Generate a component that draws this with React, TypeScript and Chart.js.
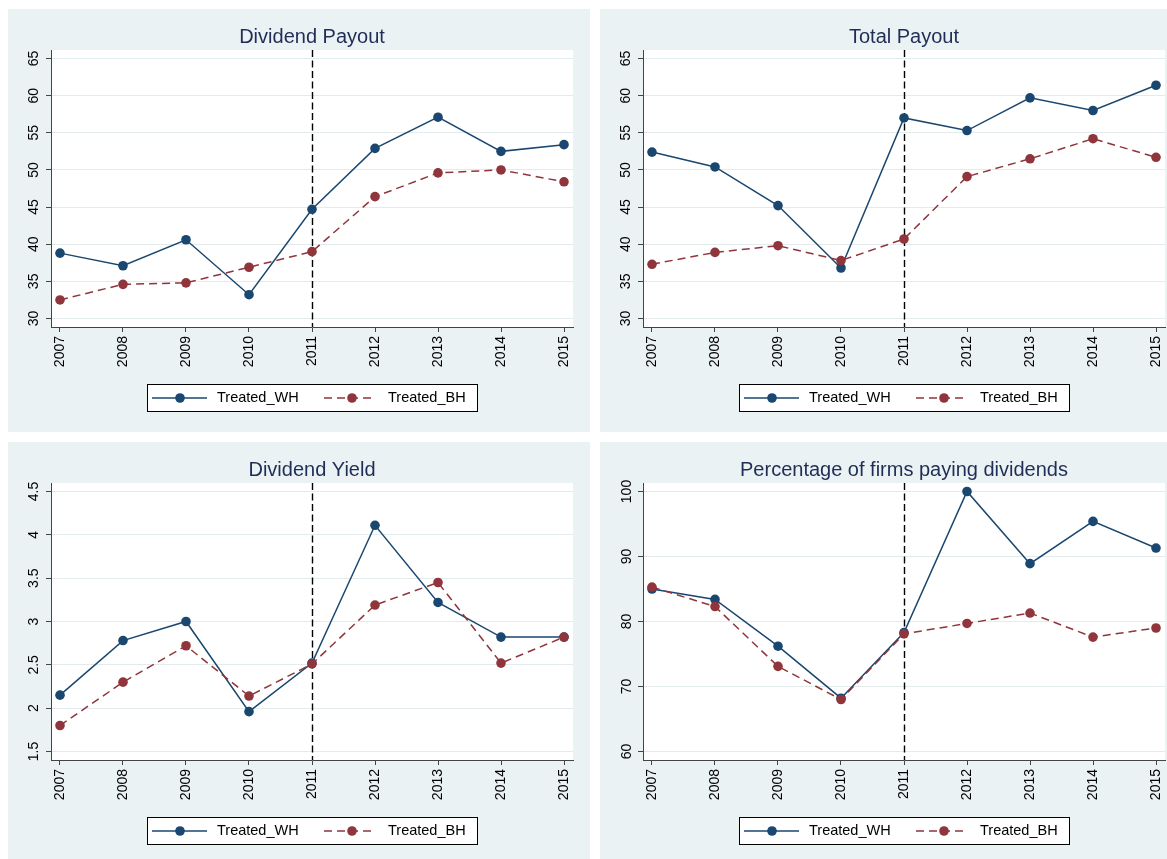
import React, { useEffect, useRef } from "react";
import { Chart, registerables } from "chart.js";

Chart.register(...registerables);

// ---------- data ----------
const years = [2007, 2008, 2009, 2010, 2011, 2012, 2013, 2014, 2015];
const seriesNames = ["Treated_WH", "Treated_BH"];
const eventYear = 2011;

const payoutWH = [38.8, 37.1, 40.6, 33.2, 44.7, 52.9, 57.1, 52.5, 53.4];
const payoutBH = [32.5, 34.6, 34.8, 36.9, 39.0, 46.4, 49.6, 50.0, 48.4];

const totalWH = [52.4, 50.4, 45.2, 36.8, 57.0, 55.3, 59.7, 58.0, 61.4];
const totalBH = [37.3, 38.9, 39.8, 37.8, 40.7, 49.1, 51.5, 54.2, 51.7];

const yieldWH = [2.15, 2.78, 3.0, 1.96, 2.52, 4.11, 3.22, 2.82, 2.82];
const yieldBH = [1.8, 2.3, 2.72, 2.14, 2.51, 3.19, 3.45, 2.52, 2.82];

const pctWH = [85.0, 83.4, 76.2, 68.2, 78.3, 100, 88.9, 95.4, 91.3];
const pctBH = [85.3, 82.3, 73.1, 68.0, 78.1, 79.7, 81.3, 77.6, 79.0];

const payoutTicks = [30, 35, 40, 45, 50, 55, 60, 65];
const yieldTicks = [1.5, 2, 2.5, 3, 3.5, 4, 4.5];
const pctTicks = [60, 70, 80, 90, 100];

const titles = [
  "Dividend Payout",
  "Total Payout",
  "Dividend Yield",
  "Percentage of firms paying dividends",
];

// ---------- style ----------
const FONT = "'Liberation Sans', Arial, sans-serif";
const NAVY = "#1a476f";
const MAROON = "#90353b";
const PANEL_BG = "#eaf2f3";
const TITLE_COLOR = "#1f2d57";
const AXIS_COLOR = "#444444";
const PANEL_W = 582;
const PANEL_H = 423;
const MARKER_R = 4.8;
const LINE_W = 1.5;

type PanelProps = {
  title: string;
  wh: number[];
  bh: number[];
  ticks: number[];
  tickPad: number;
};

function Panel({ title, wh, bh, ticks, tickPad }: PanelProps) {
  const ref = useRef<HTMLCanvasElement | null>(null);

  useEffect(() => {
    if (!ref.current) return;
    const lo = ticks[0];
    const hi = ticks[ticks.length - 1];
    const span = hi - lo;
    const pad = (span * 8.5) / 260;

    const plugin = {
      id: "stataDecor",
      beforeDraw(chart: any) {
        const { ctx, chartArea: ca } = chart;
        ctx.save();
        ctx.fillStyle = "#ffffff";
        ctx.fillRect(ca.left, ca.top, ca.right - ca.left, ca.bottom - ca.top);
        ctx.restore();
      },
      beforeDatasetsDraw(chart: any) {
        const { ctx, chartArea: ca } = chart;
        const x = Math.round(chart.scales.x.getPixelForValue(eventYear)) + 0.5;
        ctx.save();
        ctx.strokeStyle = "#000000";
        ctx.lineWidth = 1.4;
        ctx.setLineDash([7, 3.5]);
        ctx.beginPath();
        ctx.moveTo(x, ca.top);
        ctx.lineTo(x, ca.bottom);
        ctx.stroke();
        ctx.restore();
      },
      afterDraw(chart: any) {
        const { ctx, chartArea: ca } = chart;
        const cx = (ca.left + ca.right) / 2;
        ctx.save();
        // title
        ctx.fillStyle = TITLE_COLOR;
        ctx.font = `20px ${FONT}`;
        ctx.textAlign = "center";
        ctx.textBaseline = "middle";
        ctx.fillText(title, cx, 28);

        // legend
        const top = 375;
        const h = 27;
        const left = Math.round(cx - 165);
        ctx.fillStyle = "#ffffff";
        ctx.fillRect(left, top, 330, h);
        ctx.strokeStyle = "#000000";
        ctx.lineWidth = 1;
        ctx.setLineDash([]);
        ctx.strokeRect(left + 0.5, top + 0.5, 330, h);
        const my = top + h / 2 + 0.5;

        // WH entry
        ctx.strokeStyle = NAVY;
        ctx.lineWidth = LINE_W;
        ctx.beginPath();
        ctx.moveTo(cx - 160, my);
        ctx.lineTo(cx - 105, my);
        ctx.stroke();
        ctx.fillStyle = NAVY;
        ctx.beginPath();
        ctx.arc(cx - 132, my, MARKER_R, 0, Math.PI * 2);
        ctx.fill();

        // BH entry
        ctx.strokeStyle = MAROON;
        ctx.setLineDash([8, 5]);
        ctx.beginPath();
        ctx.moveTo(cx + 12, my);
        ctx.lineTo(cx + 62, my);
        ctx.stroke();
        ctx.setLineDash([]);
        ctx.fillStyle = MAROON;
        ctx.beginPath();
        ctx.arc(cx + 40, my, MARKER_R, 0, Math.PI * 2);
        ctx.fill();

        ctx.fillStyle = "#000000";
        ctx.font = `14.5px ${FONT}`;
        ctx.textAlign = "left";
        ctx.textBaseline = "middle";
        ctx.fillText(seriesNames[0], cx - 95, my);
        ctx.fillText(seriesNames[1], cx + 76, my);
        ctx.restore();
      },
    };

    const chart = new Chart(ref.current, {
      type: "line",
      data: {
        datasets: [
          {
            label: seriesNames[0],
            data: wh.map((v, i) => ({ x: years[i], y: v })),
            borderColor: NAVY,
            backgroundColor: NAVY,
            borderWidth: LINE_W,
            pointRadius: MARKER_R,
            pointBorderWidth: 0,
            pointBackgroundColor: NAVY,
            tension: 0,
            order: 2,
          },
          {
            label: seriesNames[1],
            data: bh.map((v, i) => ({ x: years[i], y: v })),
            borderColor: MAROON,
            backgroundColor: MAROON,
            borderWidth: LINE_W,
            borderDash: [8, 5],
            pointRadius: MARKER_R,
            pointBorderWidth: 0,
            pointBackgroundColor: MAROON,
            tension: 0,
            order: 1,
          },
        ],
      },
      options: {
        animation: false,
        responsive: false,
        devicePixelRatio: 1,
        layout: { padding: { top: 41, right: 17, bottom: 0, left: 0 } },
        plugins: {
          legend: { display: false },
          title: { display: false },
          tooltip: { enabled: false },
        },
        events: [],
        scales: {
          x: {
            type: "linear",
            min: years[0] - 9 / 63,
            max: years[years.length - 1] + 9 / 63,
            afterBuildTicks: (s: any) => {
              s.ticks = years.map((v) => ({ value: v }));
            },
            afterFit: (s: any) => {
              s.height = 105;
            },
            ticks: {
              autoSkip: false,
              minRotation: 90,
              maxRotation: 90,
              padding: 4,
              color: "#000000",
              font: { family: FONT, size: 14 },
              callback: (v: any) => String(v),
            },
            grid: {
              drawOnChartArea: false,
              drawTicks: true,
              tickLength: 5,
              tickColor: AXIS_COLOR,
              tickWidth: 1,
            },
            border: { color: AXIS_COLOR, width: 1 },
          },
          y: {
            type: "linear",
            min: lo - pad,
            max: hi + pad,
            afterBuildTicks: (s: any) => {
              s.ticks = ticks.map((v) => ({ value: v }));
            },
            afterFit: (s: any) => {
              s.width = 43;
            },
            ticks: {
              autoSkip: false,
              minRotation: 90,
              maxRotation: 90,
              crossAlign: "center",
              padding: tickPad,
              color: "#000000",
              font: { family: FONT, size: 14 },
              callback: (v: any) => String(v),
            },
            grid: {
              color: "#e3ebed",
              lineWidth: 1,
              drawTicks: true,
              tickLength: 5,
              tickColor: AXIS_COLOR,
              tickWidth: 1,
            },
            border: { color: AXIS_COLOR, width: 1 },
          },
        },
      },
      plugins: [plugin],
    } as any);

    return () => chart.destroy();
  }, [title, wh, bh, ticks, tickPad]);

  return (
    <canvas
      ref={ref}
      width={PANEL_W}
      height={PANEL_H}
      style={{ display: "block", width: PANEL_W, height: PANEL_H }}
    />
  );
}

const panelStyle = (left: number, top: number): React.CSSProperties => ({
  position: "absolute",
  left,
  top,
  width: PANEL_W,
  height: PANEL_H,
  background: PANEL_BG,
  overflow: "hidden",
});

export default function App() {
  return (
    <div
      style={{
        position: "fixed",
        left: 0,
        top: 0,
        width: 1167,
        height: 859,
        overflow: "hidden",
        background: "#ffffff",
      }}
    >
      <div style={panelStyle(8, 9)}>
        <Panel title={titles[0]} wh={payoutWH} bh={payoutBH} ticks={payoutTicks} tickPad={4.2} />
      </div>
      <div style={panelStyle(600, 9)}>
        <Panel title={titles[1]} wh={totalWH} bh={totalBH} ticks={payoutTicks} tickPad={4.2} />
      </div>
      <div style={panelStyle(8, 442)}>
        <Panel title={titles[2]} wh={yieldWH} bh={yieldBH} ticks={yieldTicks} tickPad={2.3} />
      </div>
      <div style={panelStyle(600, 442)}>
        <Panel title={titles[3]} wh={pctWH} bh={pctBH} ticks={pctTicks} tickPad={-0.7} />
      </div>
    </div>
  );
}
